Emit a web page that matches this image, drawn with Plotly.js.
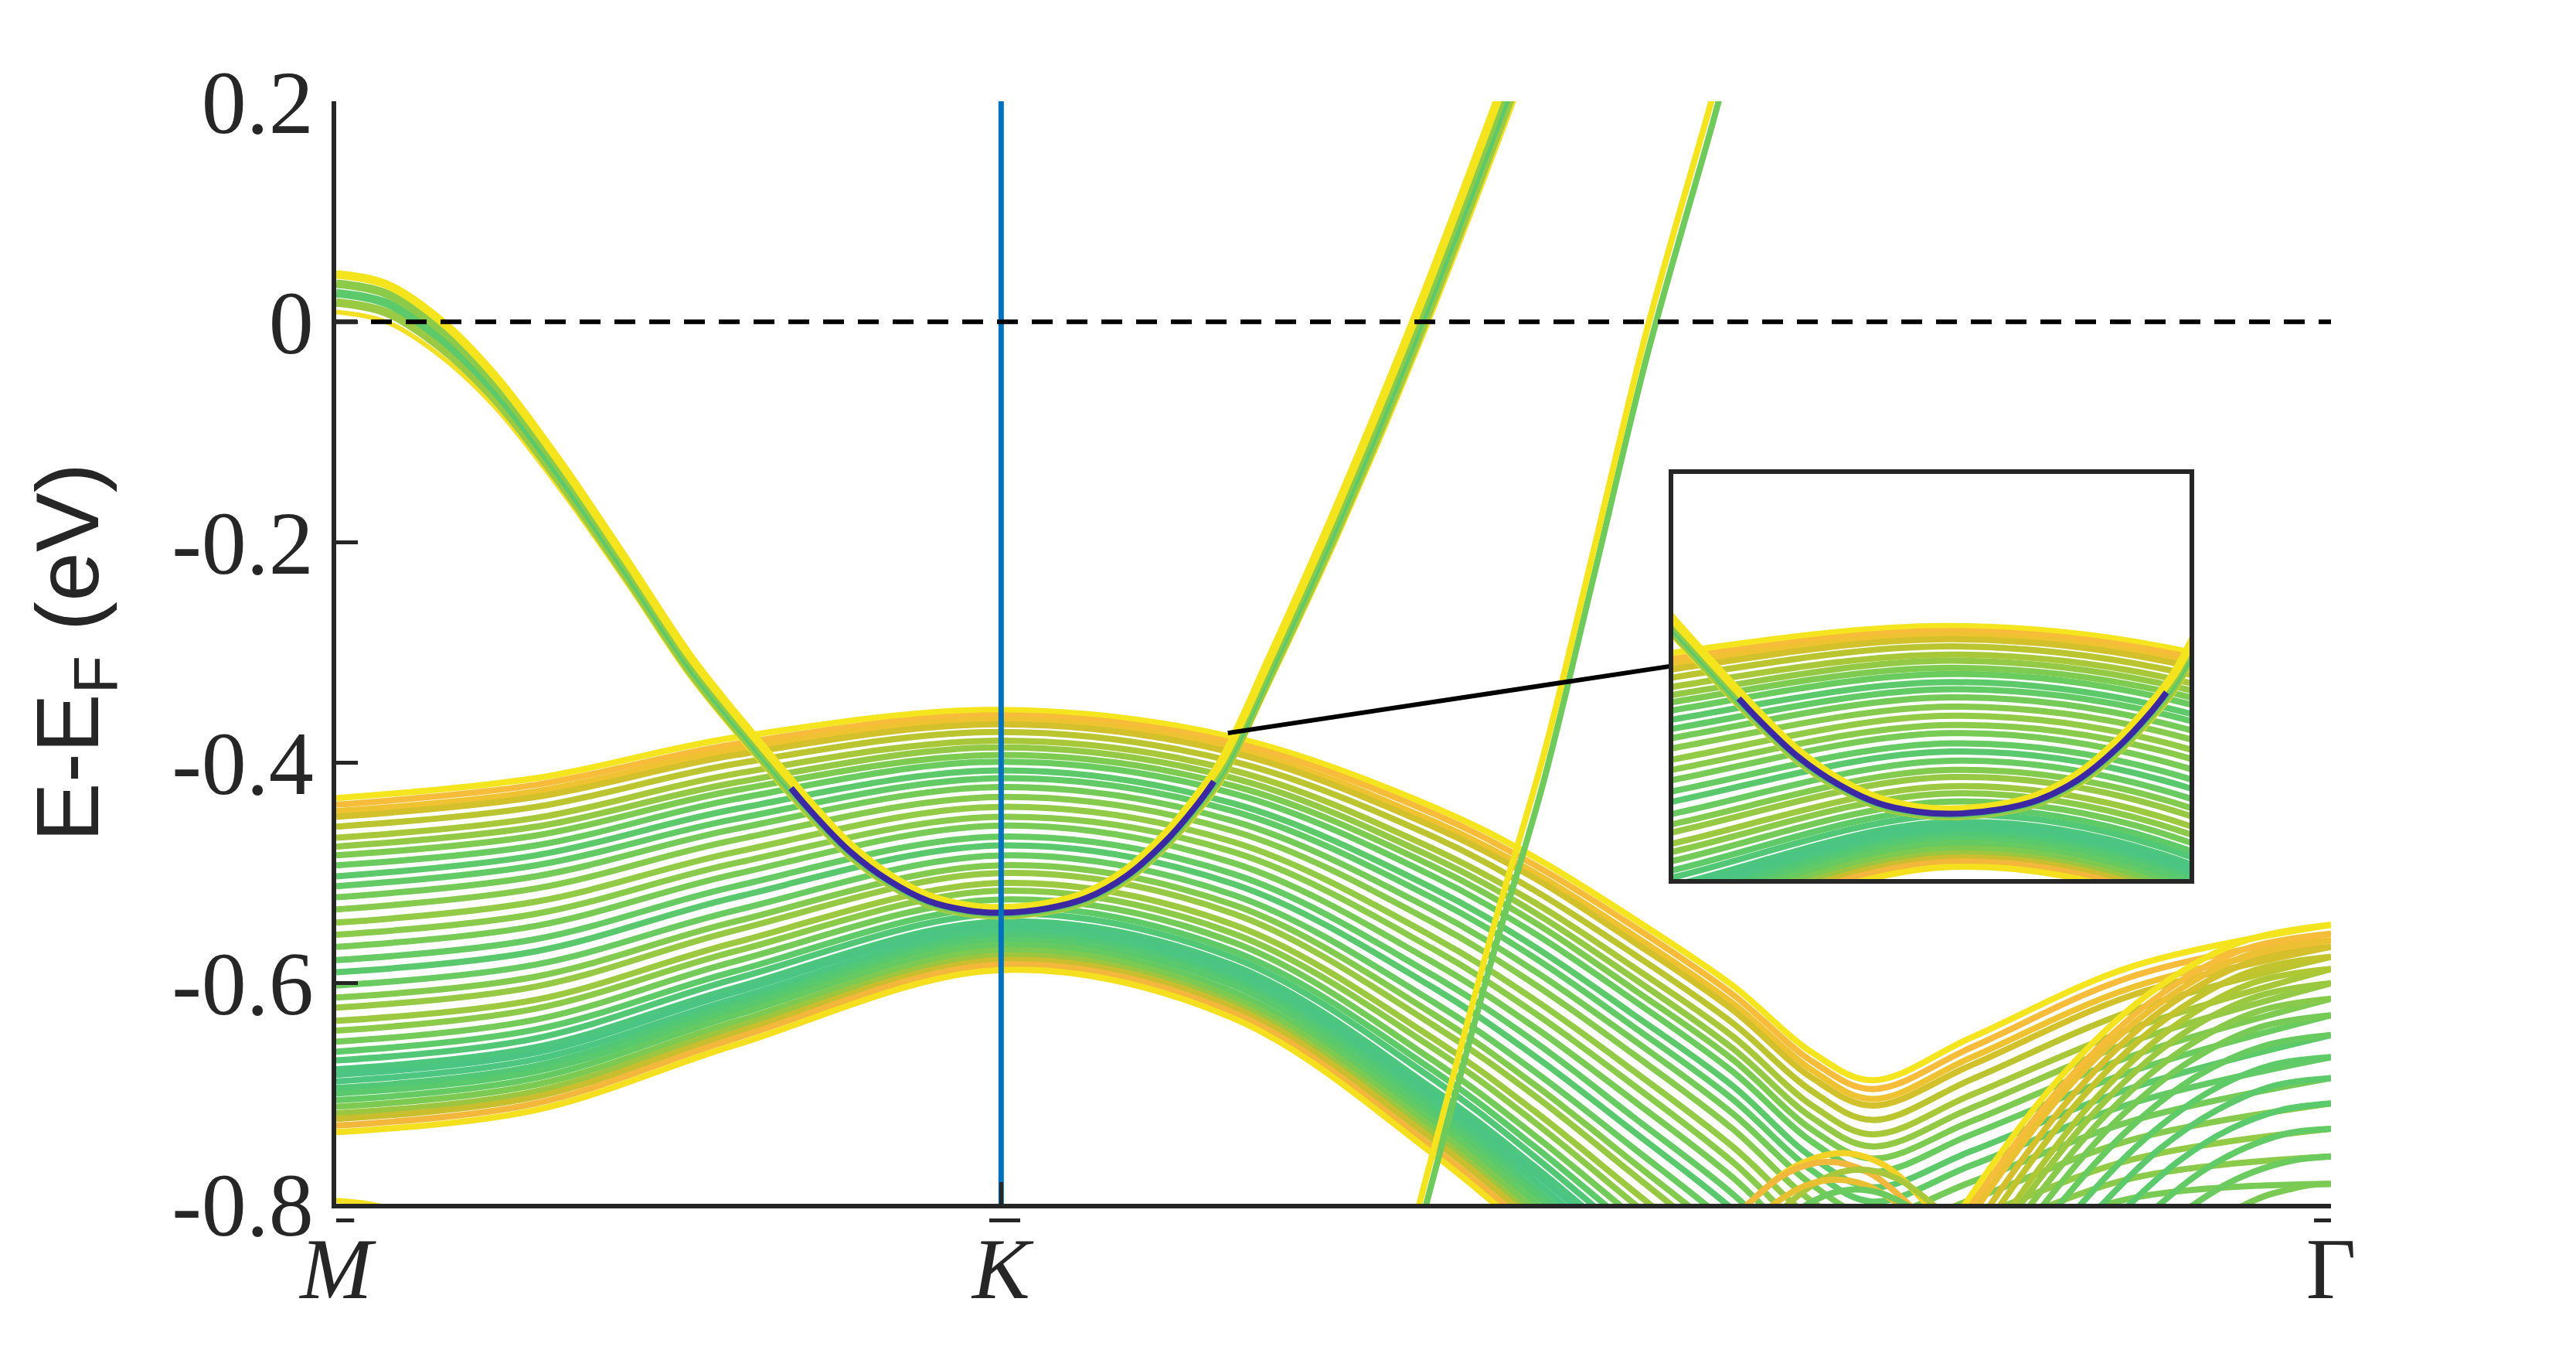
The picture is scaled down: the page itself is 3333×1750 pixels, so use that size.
<!DOCTYPE html>
<html><head><meta charset="utf-8">
<script src="https://cdn.plot.ly/plotly-3.0.1.min.js"></script>
<style>html,body{margin:0;padding:0;background:#fff;}#plot{width:3333px;height:1750px;}</style>
</head><body><div id="plot"></div>
<script>
// ---------- axes / ticks ----------
const kTickVals = [0, 1/3, 1];
const kTickText = ['<i>M</i>', '<i>K</i>', '\u0393'];
// overbars of the high-symmetry labels (k extent of each bar)
const kBar_x0 = [-0.0068, 0.3274, 0.9915];
const kBar_x1 = [0.0090, 0.3429, 1.0070];
const eTickVals = [0.2, 0, -0.2, -0.4, -0.6, -0.8];
const eTickText = ['0.2', '0', '-0.2', '-0.4', '-0.6', '-0.8'];

// ---------- slab bundle C (37 sub-bands), energies at k nodes ----------
const C_k = [0, 0.1, 0.2, 0.3333, 0.45, 0.55, 0.6, 0.65, 0.7, 0.74, 0.77, 0.82, 0.9, 1.0];
const C_E_000 = [-0.432,-0.438,-0.444,-0.449,-0.458,-0.468,-0.476,-0.484,-0.493,-0.503,-0.512,-0.522,-0.533,-0.545,-0.556,-0.567,-0.579,-0.590,-0.602,-0.613,-0.622,-0.634,-0.643,-0.653,-0.662,-0.670,-0.678,-0.683,-0.689,-0.695,-0.700,-0.706,-0.712,-0.718,-0.723,-0.729,-0.735];
const C_E_010 = [-0.414,-0.420,-0.426,-0.431,-0.440,-0.450,-0.458,-0.466,-0.475,-0.484,-0.493,-0.503,-0.514,-0.526,-0.537,-0.548,-0.560,-0.571,-0.583,-0.594,-0.603,-0.615,-0.623,-0.633,-0.642,-0.650,-0.658,-0.663,-0.669,-0.675,-0.680,-0.686,-0.692,-0.698,-0.703,-0.709,-0.715];
const C_E_020 = [-0.377,-0.383,-0.388,-0.393,-0.401,-0.410,-0.418,-0.425,-0.433,-0.442,-0.451,-0.460,-0.470,-0.481,-0.491,-0.501,-0.512,-0.522,-0.534,-0.544,-0.552,-0.563,-0.571,-0.580,-0.589,-0.596,-0.604,-0.608,-0.614,-0.619,-0.624,-0.629,-0.635,-0.640,-0.645,-0.650,-0.656];
const C_E_033 = [-0.352,-0.357,-0.361,-0.365,-0.372,-0.380,-0.386,-0.393,-0.399,-0.407,-0.414,-0.422,-0.431,-0.440,-0.449,-0.457,-0.467,-0.475,-0.484,-0.493,-0.500,-0.509,-0.516,-0.524,-0.531,-0.537,-0.544,-0.547,-0.552,-0.557,-0.561,-0.565,-0.570,-0.575,-0.579,-0.583,-0.588];
const C_E_045 = [-0.377,-0.382,-0.387,-0.391,-0.399,-0.407,-0.414,-0.421,-0.428,-0.437,-0.444,-0.453,-0.462,-0.472,-0.481,-0.491,-0.501,-0.510,-0.520,-0.529,-0.537,-0.547,-0.555,-0.563,-0.571,-0.577,-0.584,-0.588,-0.593,-0.598,-0.602,-0.608,-0.613,-0.618,-0.622,-0.627,-0.632];
const C_E_055 = [-0.440,-0.446,-0.453,-0.458,-0.467,-0.478,-0.486,-0.494,-0.503,-0.514,-0.523,-0.534,-0.545,-0.558,-0.569,-0.581,-0.593,-0.604,-0.617,-0.628,-0.638,-0.650,-0.659,-0.670,-0.679,-0.687,-0.696,-0.701,-0.707,-0.713,-0.719,-0.725,-0.731,-0.737,-0.742,-0.749,-0.755];
const C_E_060 = [-0.485,-0.492,-0.499,-0.504,-0.515,-0.526,-0.535,-0.544,-0.554,-0.566,-0.576,-0.588,-0.600,-0.614,-0.626,-0.639,-0.652,-0.665,-0.679,-0.691,-0.701,-0.715,-0.725,-0.737,-0.747,-0.756,-0.765,-0.771,-0.778,-0.785,-0.790,-0.797,-0.804,-0.811,-0.816,-0.823,-0.830];
const C_E_065 = [-0.541,-0.548,-0.556,-0.562,-0.573,-0.585,-0.595,-0.605,-0.615,-0.628,-0.639,-0.651,-0.664,-0.679,-0.692,-0.706,-0.721,-0.734,-0.749,-0.762,-0.773,-0.788,-0.799,-0.811,-0.822,-0.832,-0.841,-0.847,-0.855,-0.862,-0.868,-0.876,-0.883,-0.890,-0.896,-0.904,-0.911];
const C_E_070 = [-0.602,-0.610,-0.618,-0.624,-0.636,-0.648,-0.659,-0.669,-0.680,-0.693,-0.705,-0.718,-0.732,-0.748,-0.762,-0.776,-0.791,-0.805,-0.821,-0.835,-0.847,-0.862,-0.873,-0.886,-0.898,-0.908,-0.919,-0.925,-0.933,-0.940,-0.947,-0.955,-0.962,-0.970,-0.976,-0.984,-0.992];
const C_E_074 = [-0.663,-0.671,-0.679,-0.686,-0.698,-0.711,-0.722,-0.733,-0.744,-0.758,-0.770,-0.783,-0.798,-0.814,-0.829,-0.844,-0.859,-0.874,-0.890,-0.905,-0.917,-0.933,-0.945,-0.958,-0.970,-0.981,-0.992,-0.998,-1.006,-1.015,-1.021,-1.029,-1.037,-1.045,-1.052,-1.060,-1.068];
const C_E_077 = [-0.688,-0.696,-0.705,-0.711,-0.724,-0.737,-0.748,-0.759,-0.771,-0.785,-0.798,-0.811,-0.826,-0.843,-0.858,-0.873,-0.889,-0.904,-0.921,-0.936,-0.948,-0.965,-0.977,-0.991,-1.003,-1.014,-1.025,-1.032,-1.040,-1.048,-1.055,-1.063,-1.072,-1.080,-1.086,-1.095,-1.103];
const C_E_082 = [-0.649,-0.658,-0.667,-0.674,-0.687,-0.701,-0.713,-0.725,-0.737,-0.752,-0.765,-0.780,-0.796,-0.813,-0.829,-0.845,-0.862,-0.878,-0.896,-0.912,-0.925,-0.943,-0.955,-0.970,-0.983,-0.994,-1.006,-1.013,-1.022,-1.031,-1.038,-1.047,-1.056,-1.064,-1.071,-1.080,-1.089];
const C_E_090 = [-0.585,-0.594,-0.604,-0.611,-0.625,-0.641,-0.653,-0.666,-0.680,-0.695,-0.709,-0.725,-0.742,-0.760,-0.777,-0.795,-0.813,-0.830,-0.849,-0.866,-0.880,-0.899,-0.912,-0.928,-0.942,-0.954,-0.967,-0.974,-0.984,-0.993,-1.001,-1.010,-1.019,-1.029,-1.036,-1.046,-1.055];
const C_E_100 = [-0.547,-0.555,-0.561,-0.567,-0.576,-0.587,-0.600,-0.614,-0.629,-0.647,-0.667,-0.686,-0.709,-0.732,-0.757,-0.782,-0.810,-0.820,-0.828,-0.846,-0.861,-0.881,-0.895,-0.912,-0.927,-0.940,-0.953,-0.961,-0.971,-0.981,-0.989,-0.999,-1.009,-1.019,-1.027,-1.037,-1.047];
const C_colors = ['#F5E51E','#F6BC3A','#EFC232','#D2C12B','#BBC52F','#A8C83A','#93C945','#7ECB51','#6ACB5E','#5CC96B','#62CB66','#74CB58','#86CB4D','#93CA46','#8ACB4B','#78CB55','#66CB62','#5AC96D','#69CB60','#83CB4F','#98C944','#9DC941','#8CCA4A','#74CB58','#5FCA68','#52C775','#4DC67E','#4AC583','#4CC680','#52C776','#5AC96E','#66CA62','#7CCA52','#9CC640','#C9BF2E','#F2B73B','#F5E01F'];

// ---------- band A (narrow bundle M -> K -> steep up) ----------
const A_k  = [0, 0.025, 0.053, 0.08, 0.112, 0.145, 0.178, 0.208, 0.2375, 0.2573, 0.2772, 0.297, 0.3168, 0.3333, 0.3566, 0.3764, 0.3963, 0.4161, 0.432, 0.444, 0.468, 0.5, 0.54, 0.582, 0.6];
const A1_E = [0.043, 0.034, 0.0, -0.05, -0.127, -0.215, -0.305, -0.373, -0.436, -0.474, -0.502, -0.521, -0.530, -0.532, -0.528, -0.518, -0.497, -0.464, -0.429, -0.398, -0.305, -0.175, 0.0, 0.2, 0.29];
const A2_E = [0.0345, 0.0255, -0.008, -0.057, -0.133, -0.22, -0.3095, -0.377, -0.4395, -0.477, -0.5045, -0.523, -0.532, -0.534, -0.530, -0.520, -0.500, -0.467, -0.433, -0.4025, -0.3105, -0.182, -0.0085, 0.19, 0.2795];
const A3_E = [0.026, 0.017, -0.016, -0.064, -0.139, -0.225, -0.314, -0.381, -0.443, -0.480, -0.507, -0.5255, -0.534, -0.536, -0.532, -0.5225, -0.5025, -0.4705, -0.437, -0.407, -0.316, -0.189, -0.017, 0.18, 0.269];
const A4_E = [0.0175, 0.0085, -0.024, -0.071, -0.145, -0.23, -0.3185, -0.385, -0.4465, -0.483, -0.5095, -0.528, -0.536, -0.538, -0.534, -0.525, -0.505, -0.474, -0.441, -0.4115, -0.3215, -0.196, -0.0255, 0.17, 0.2585];
const A5_E = [0.009, 0.0, -0.032, -0.078, -0.151, -0.235, -0.323, -0.389, -0.450, -0.486, -0.512, -0.530, -0.538, -0.540, -0.536, -0.527, -0.508, -0.477, -0.445, -0.416, -0.327, -0.203, -0.034, 0.160, 0.248];
const A_colors = ['#F4E41E', '#8CCA4A', '#5CC96B', '#9ACA43', '#F3DF24'];

// surface state (dark violet) on band A near K
const SS_k = [0.228, 0.2375, 0.2573, 0.2772, 0.297, 0.3168, 0.3333, 0.3566, 0.3764, 0.3963, 0.4161, 0.432, 0.440];
const SS_E = [-0.423, -0.443, -0.480, -0.507, -0.5255, -0.534, -0.536, -0.532, -0.5225, -0.5025, -0.4705, -0.437, -0.417];

// ---------- band B (steep) ----------
const B_k  = [0.535, 0.543, 0.58, 0.605, 0.63, 0.6574, 0.6894, 0.70];
const B1_E = [-0.855, -0.8, -0.55, -0.395, -0.21, -0.005, 0.2, 0.27];
const B2_E = [-0.879, -0.824, -0.574, -0.419, -0.234, -0.029, 0.176, 0.246];

// ---------- bundle D (steep near Gamma, 16 sub-bands) ----------
const D_k0 = [0.7938,0.7978,0.8019,0.8083,0.8140,0.8212,0.8253,0.8310,0.8383,0.8472,0.8593,0.8714,0.8868,0.9038,0.9233,0.9524];
const D_k1 = [0.8167,0.8203,0.8239,0.8296,0.8347,0.8411,0.8447,0.8498,0.8563,0.8642,0.8749,0.8857,0.8994,0.9145,0.9318,0.9577];
const D_k2 = [0.8625,0.8652,0.8679,0.8722,0.8760,0.8808,0.8835,0.8874,0.8922,0.8982,0.9062,0.9143,0.9246,0.9359,0.9489,0.9683];
const D_k3 = [0.9084,0.9102,0.9120,0.9148,0.9174,0.9206,0.9224,0.9249,0.9282,0.9321,0.9375,0.9429,0.9497,0.9573,0.9659,0.9789];
const D_k4 = [0.9542,0.9551,0.9560,0.9574,0.9587,0.9603,0.9612,0.9625,0.9641,0.9661,0.9687,0.9714,0.9749,0.9786,0.9830,0.9894];
const D_k5 = [1,1,1,1,1,1,1,1,1,1,1,1,1,1,1,1];
const D_E0 = [-0.867,-0.865,-0.864,-0.862,-0.860,-0.857,-0.853,-0.849,-0.845,-0.841,-0.835,-0.830,-0.824,-0.818,-0.811,-0.805];
const D_E1 = [-0.8,-0.8,-0.8,-0.8,-0.8,-0.8,-0.8,-0.8,-0.8,-0.8,-0.8,-0.8,-0.8,-0.8,-0.8,-0.8];
const D_E2 = [-0.689,-0.693,-0.695,-0.698,-0.702,-0.707,-0.713,-0.719,-0.725,-0.733,-0.742,-0.750,-0.760,-0.770,-0.781,-0.792];
const D_E3 = [-0.610,-0.616,-0.621,-0.625,-0.632,-0.640,-0.650,-0.661,-0.672,-0.685,-0.700,-0.715,-0.732,-0.749,-0.768,-0.787];
const D_E4 = [-0.563,-0.570,-0.576,-0.582,-0.590,-0.600,-0.613,-0.626,-0.640,-0.657,-0.675,-0.693,-0.715,-0.736,-0.760,-0.783];
const D_E5 = [-0.547,-0.555,-0.561,-0.567,-0.576,-0.587,-0.600,-0.614,-0.629,-0.647,-0.667,-0.686,-0.709,-0.732,-0.757,-0.782];
const D_colors = ['#F4E41F','#F5BD3A','#EDC033','#D6BF2C','#C2C42D','#AEC735','#9AC941','#88CA4B','#76CB56','#68CB60','#5FCA68','#5CC96B','#5ACA6C','#62CB66','#6CCB5E','#7BCA54'];

// ---------- small arcs near the bottom (k ~ 0.76) ----------
const Arc_k0 = [0.6984, 0.7000, 0.7208, 0.7148, 0.7332];
const Arc_k1 = [0.708, 0.708, 0.728, 0.721, 0.738];
const Arc_k2 = [0.732, 0.728, 0.746, 0.7365, 0.750];
const Arc_k3 = [0.756, 0.748, 0.764, 0.752, 0.762];
const Arc_k4 = [0.7765, 0.768, 0.782, 0.7675, 0.774];
const Arc_k5 = [0.797, 0.788, 0.800, 0.783, 0.786];
const Arc_k6 = [0.8052, 0.796, 0.8072, 0.7892, 0.7908];
const Arc_E0 = [-0.820, -0.817, -0.8136, -0.8097, -0.8057];
const Arc_E1 = [-0.8, -0.8, -0.8, -0.8, -0.8];
const Arc_E2 = [-0.7655, -0.7715, -0.7768, -0.7835, -0.7903];
const Arc_E3 = [-0.754, -0.762, -0.769, -0.778, -0.787];
const Arc_E4 = [-0.7655, -0.7715, -0.7768, -0.7835, -0.7903];
const Arc_E5 = [-0.8, -0.8, -0.8, -0.8, -0.8];
const Arc_E6 = [-0.820, -0.817, -0.8136, -0.8097, -0.8057];
const Arc_colors = ['#F4D225', '#F2B83B', '#A9C73A', '#E9C032', '#6CCB5E'];

// band touching the bottom at M
const Mlow_k = [0, 0.012, 0.024];
const Mlow_E = [-0.797, -0.799, -0.803];

// reference lines
const EF_k = [0, 1];
const EF_E = [0, 0];
const Kline_E = [-0.8, 0.2];
const zoomLink_k = [0.447, 0.6703];
const zoomLink_E = [-0.373, -0.312];

// inset window
const inset_k = [0.1956, 0.4514];
const inset_E = [-0.600, -0.203];

// ---------- build traces ----------
const C_cols = [C_E_000, C_E_010, C_E_020, C_E_033, C_E_045, C_E_055, C_E_060, C_E_065, C_E_070, C_E_074, C_E_077, C_E_082, C_E_090, C_E_100];
const A_rows = [A1_E, A2_E, A3_E, A4_E, A5_E];
const D_kcols = [D_k0, D_k1, D_k2, D_k3, D_k4, D_k5];
const D_Ecols = [D_E0, D_E1, D_E2, D_E3, D_E4, D_E5];
const Arc_kcols = [Arc_k0, Arc_k1, Arc_k2, Arc_k3, Arc_k4, Arc_k5, Arc_k6];
const Arc_Ecols = [Arc_E0, Arc_E1, Arc_E2, Arc_E3, Arc_E4, Arc_E5, Arc_E6];

function ln(x, y, color, width, xa, ya, extra) {
  return Object.assign({type: 'scatter', mode: 'lines', x: x, y: y, xaxis: xa, yaxis: ya,
    line: {color: color, width: width, shape: 'spline', smoothing: 1}, hoverinfo: 'skip', showlegend: false}, extra || {});
}

function bandTraces(xa, ya, full) {
  const t = [];
  for (let n = 0; n < C_colors.length; n++) {
    t.push(ln(C_k, C_cols.map(c => c[n]), C_colors[n], 8, xa, ya));
  }
  if (full) {
    for (let n = 0; n < D_colors.length; n++) {
      t.push(ln(D_kcols.map(c => c[n]), D_Ecols.map(c => c[n]), D_colors[n], 8, xa, ya));
    }
    for (let n = 0; n < Arc_colors.length; n++) {
      t.push(ln(Arc_kcols.map(c => c[n]), Arc_Ecols.map(c => c[n]), Arc_colors[n], 8, xa, ya));
    }
    t.push(ln(Mlow_k, Mlow_E, '#F5E01F', 7, xa, ya));
    t.push(ln(B_k, B2_E, '#6FCA5C', 8, xa, ya));
    t.push(ln(B_k, B1_E, '#F4E41E', 8, xa, ya));
  }
  for (let n = A_rows.length - 1; n >= 0; n--) {
    t.push(ln(A_k, A_rows[n], A_colors[n], n === 4 ? 6 : 11, xa, ya));
  }
  t.push(ln(A_k, A1_E, A_colors[0], 8, xa, ya));
  t.push(ln(SS_k, SS_E, '#3B28A2', 8, xa, ya));
  return t;
}

const traces = [];
bandTraces('x', 'y', true).forEach(t => traces.push(t));
traces.push(ln([kTickVals[1], kTickVals[1]], Kline_E, '#0072BD', 7, 'x', 'y', {line: {color: '#0072BD', width: 7}}));
traces.push(ln(EF_k, EF_E, '#000', 6, 'x', 'y', {line: {color: '#000000', width: 6, dash: '27px,18px'}}));
traces.push(ln(zoomLink_k, zoomLink_E, '#000', 6, 'x', 'y', {line: {color: '#000000', width: 6}}));
bandTraces('x2', 'y2', false).forEach(t => traces.push(t));

const axCol = '#262626';
const barShapes = kBar_x0.map((x0, i) => ({type: 'line', xref: 'x', yref: 'paper', x0: x0, x1: kBar_x1[i],
  y0: -0.0150, y1: -0.0150, line: {color: axCol, width: 5}}));

const layout = {
  width: 3333, height: 1750,
  margin: {l: 435, r: 317, t: 131, b: 193},
  paper_bgcolor: '#ffffff', plot_bgcolor: 'rgba(0,0,0,0)',
  showlegend: false,
  xaxis: {
    domain: [0, 1], range: [0, 1], showgrid: false, zeroline: false,
    showline: true, linecolor: axCol, linewidth: 6,
    ticks: 'inside', ticklen: 28, tickwidth: 5, tickcolor: axCol,
    tickmode: 'array', tickvals: kTickVals, ticktext: kTickText,
    tickfont: {family: 'Liberation Serif', size: 112, color: axCol},
    ticklabelstandoff: -18
  },
  yaxis: {
    domain: [0, 1], range: [-0.8, 0.2], showgrid: false, zeroline: false,
    showline: true, linecolor: axCol, linewidth: 6,
    ticks: 'inside', ticklen: 28, tickwidth: 5, tickcolor: axCol,
    tickmode: 'array', tickvals: eTickVals, ticktext: eTickText,
    tickfont: {family: 'Liberation Serif', size: 116, color: axCol},
    ticklabelstandoff: 0,
    title: {text: 'E-E<sub>F</sub> (eV)', font: {family: 'Liberation Sans', size: 115, color: axCol}, standoff: 58}
  },
  xaxis2: {
    domain: [0.6703, 0.9291], range: inset_k, anchor: 'y2',
    showgrid: false, zeroline: false, showticklabels: false, ticks: '',
    showline: true, mirror: true, linecolor: axCol, linewidth: 6
  },
  yaxis2: {
    domain: [0.2945, 0.662], range: inset_E, anchor: 'x2',
    showgrid: false, zeroline: false, showticklabels: false, ticks: '',
    showline: true, mirror: true, linecolor: axCol, linewidth: 6
  },
  shapes: barShapes
};

Plotly.newPlot('plot', traces, layout, {staticPlot: true, displayModeBar: false});
</script>
</body></html>
